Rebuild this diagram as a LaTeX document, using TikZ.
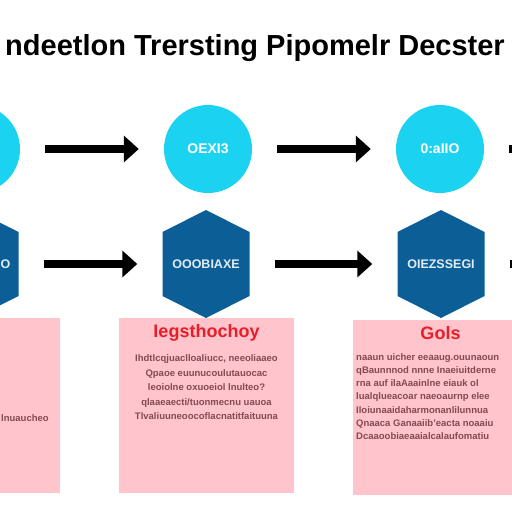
\documentclass[tikz,border=0pt]{standalone}
\usepackage{fontspec}
\setmainfont{Liberation Sans}
\usetikzlibrary{calc, positioning, arrows.meta}
\definecolor{stagecyan}{RGB}{27,211,240}
\definecolor{hexblue}{RGB}{12,94,150}
\definecolor{notepink}{RGB}{255,196,204}
\definecolor{notered}{RGB}{232,30,40}
\definecolor{notetext}{RGB}{135,72,82}
\tikzset{
  % stage circles (top row)
  stage/.style={circle, fill=stagecyan, minimum size=88pt, inner sep=0pt,
    text=white, font=\bfseries\fontsize{14}{16}\selectfont},
  % hexagon blocks (second row)
  hexbox/.style={minimum width=87pt, minimum height=108pt, inner sep=0pt,
    text=white!88!hexblue, font=\bfseries\fontsize{12.5}{14}\selectfont,
    path picture={\fill[hexblue] (path picture bounding box.north)
      -- ($(path picture bounding box.north east)+(0pt,-22pt)$)
      -- ($(path picture bounding box.south east)+(0pt,22pt)$)
      -- (path picture bounding box.south)
      -- ($(path picture bounding box.south west)+(0pt,22pt)$)
      -- ($(path picture bounding box.north west)+(0pt,-22pt)$) -- cycle;}},
  % pink note cards
  note/.style={fill=notepink, minimum width=175pt, minimum height=175pt, inner sep=0pt},
  notehead/.style={text=notered, font=\bfseries\fontsize{18}{20}\selectfont, inner sep=0pt},
  notebody/.style={text=notetext, font=\bfseries\fontsize{9.5}{14.5}\selectfont, inner sep=0pt},
  % thick flow arrows
  flow/.style={line width=8pt, -{Triangle[length=15pt,width=26pt]},
    shorten <=25pt, shorten >=25pt},
  title/.style={font=\bfseries\fontsize{29}{33}\selectfont, inner sep=0pt},
}
\begin{document}
\begin{tikzpicture}[x=1pt, y=-1pt]
  \path[use as bounding box, fill=white] (0,0) rectangle (512,512);
  \clip (0,0) rectangle (512,512);

  \node[title, anchor=base] (head) at (255,55) {ndeetlon Trersting Pipomelr Decster};

  % top row
  \node[stage] (c1) at (-24,149) {};
  \node[stage] (c2) at (208,149) {OEXI3};
  \node[stage] (c3) at (440,149) {0:aIIO};
  \coordinate (c4) at (672,149);

  \draw[flow] (c1) -- (c2);
  \draw[flow] (c2) -- (c3);
  \draw[flow] (c3) -- (c4);

  % second row
  \node[hexbox] (h1) at (-25,264) {};
  \node[hexbox] (h2) at (206,264) {OOOBIAXE};
  \node[hexbox] (h3) at (441,264) {OIEZSSEGI};
  \coordinate (h4) at (673,264);
  \node[text=white!88!hexblue, font=\bfseries\fontsize{12.5}{14}\selectfont,
    inner sep=0pt, anchor=west] (l1) at (0.5,264) {O};

  \draw[flow] (h1) -- (h2);
  \draw[flow] (h2) -- (h3);
  \draw[flow] (h3) -- (h4);

  % note cards
  \node[note] (n1) at (-28,405) {};
  \node[note] (n2) at (206.5,405) {};
  \node[note] (n3) at (440.5,407) {};

  \node[notebody, anchor=base west] (b1) at (1,421) {lnuaucheo};

  \node[notehead, below=7pt of n2.north] (t2) {Iegsthochoy};
  \node[notebody, align=center, below=13pt of t2] (b2) {%
    Ihdtlcqjuaclloaliucc, neeoliaaeo\\
    Qpaoe euunucoulutauocac\\
    leoiolne oxuoeiol lnulteo?\\
    qlaaeaecti/tuonmecnu uauoa\\
    Tlvaliuuneoocoflacnatitfaituuna};

  \node[notehead, below=7pt of n3.north] (t3) {Gols};
  \node[notebody, align=left, font=\bfseries\fontsize{9.5}{13.3}\selectfont, anchor=north west]
    (b3) at (356,353) {%
    naaun uicher eeaaug.ouunaoun\\
    qBaunnnod nnne Inaeiuitderne\\
    rna auf ilaAaainlne eiauk ol\\
    lualqlueacoar naeoaurnp elee\\
    Iloiunaaidaharmonanlilunnua\\
    Qnaaca Ganaaiib'eacta noaaiu\\
    Dcaaoobiaeaaialcalaufomatiu};
\end{tikzpicture}
\end{document}
